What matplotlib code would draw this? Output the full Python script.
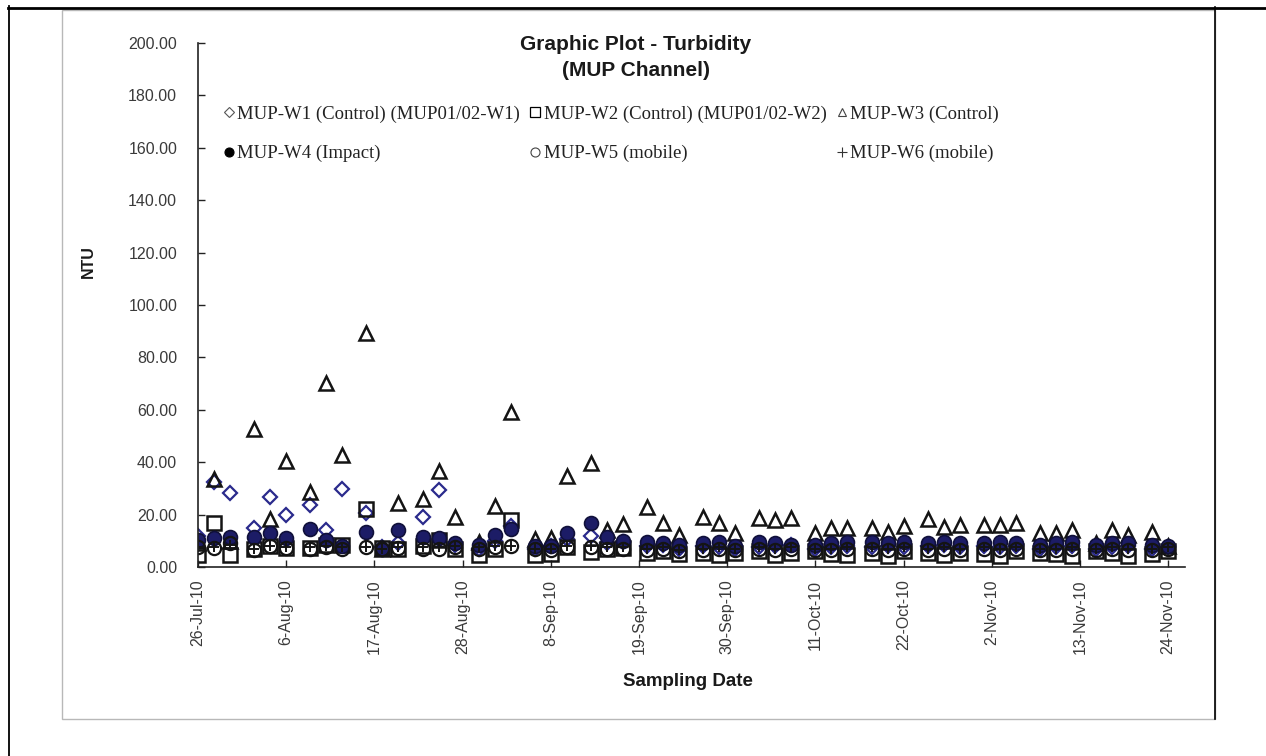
import datetime as dt
import matplotlib
matplotlib.use('Agg')
import matplotlib.pyplot as plt
import matplotlib.dates as mdates
from matplotlib.lines import Line2D
from matplotlib.patches import Rectangle
from matplotlib.ticker import FuncFormatter, MultipleLocator

# sampling dates (Mon / Wed / Fri)
dates = ['2010-07-26', '2010-07-28', '2010-07-30', '2010-08-02', '2010-08-04', '2010-08-06',
         '2010-08-09', '2010-08-11', '2010-08-13', '2010-08-16', '2010-08-18', '2010-08-20',
         '2010-08-23', '2010-08-25', '2010-08-27', '2010-08-30', '2010-09-01', '2010-09-03',
         '2010-09-06', '2010-09-08', '2010-09-10', '2010-09-13', '2010-09-15', '2010-09-17',
         '2010-09-20', '2010-09-22', '2010-09-24', '2010-09-27', '2010-09-29', '2010-10-01',
         '2010-10-04', '2010-10-06', '2010-10-08', '2010-10-11', '2010-10-13', '2010-10-15',
         '2010-10-18', '2010-10-20', '2010-10-22', '2010-10-25', '2010-10-27', '2010-10-29',
         '2010-11-01', '2010-11-03', '2010-11-05', '2010-11-08', '2010-11-10', '2010-11-12',
         '2010-11-15', '2010-11-17', '2010-11-19', '2010-11-22', '2010-11-24']

# turbidity (NTU) per station
w1 = [12.0, 32.5, 28.4, 14.8, 26.6, 19.8, 23.7, 14.1, 29.7, 20.5,
      7.5, 9.0, 19.2, 29.4, 8.5, 7.0, 10.0, 15.5, 7.0, 8.0,
      10.5, 12.0, 9.0, 9.5, 8.0, 8.5, 7.0, 8.0, 7.5, 7.0,
      7.5, 8.0, 8.5, 7.0, 7.5, 8.0, 7.5, 8.0, 7.5, 8.0,
      8.5, 7.5, 8.0, 7.5, 8.0, 7.0, 7.5, 8.0, 7.0, 7.5, 8.0, 7.0, 7.5]
w2 = [4.6, 16.9, 4.6, 7.0, 8.0, 7.2, 7.2, 8.4, 8.4, 22.1,
      7.2, 6.9, 7.9, 10.3, 6.9, 4.6, 6.9, 17.9, 4.6, 4.8,
      7.6, 5.8, 6.9, 7.2, 5.5, 6.0, 5.0, 5.5, 4.5, 5.5,
      6.0, 4.5, 5.5, 6.0, 5.0, 4.5, 5.5, 4.3, 6.0, 5.5,
      4.5, 5.5, 5.0, 4.3, 6.0, 5.5, 5.0, 4.3, 6.0, 5.5, 4.3, 5.0, 6.0]
w3 = [9.0, 33.5, 10.0, 52.5, 18.3, 40.5, 28.5, 70.3, 42.7, 89.5,
      7.0, 24.5, 25.8, 36.6, 19.0, 9.5, 23.4, 59.0, 10.5, 11.0,
      34.7, 39.8, 14.1, 16.4, 23.0, 16.7, 12.2, 19.2, 16.7, 13.1,
      18.6, 17.9, 18.6, 12.8, 15.0, 15.0, 15.0, 13.5, 15.6, 18.2,
      15.1, 16.0, 16.0, 16.0, 16.7, 12.8, 13.1, 14.1, 9.0, 14.1, 12.2, 13.5, 8.0]
w4 = [10.3, 10.9, 11.6, 11.6, 13.1, 10.9, 14.4, 10.3, 8.0, 13.5,
      7.0, 14.1, 11.4, 10.9, 9.0, 8.4, 12.2, 14.4, 8.0, 8.0,
      12.8, 16.7, 11.6, 10.1, 9.5, 9.0, 8.5, 9.0, 9.5, 8.0,
      9.5, 9.0, 8.5, 8.5, 9.0, 9.5, 9.5, 9.0, 9.5, 9.0,
      9.5, 9.0, 9.0, 9.5, 9.0, 8.5, 9.0, 9.5, 8.5, 9.0, 9.0, 8.5, 8.0]
w5 = [7.5, 7.2, 9.0, 6.5, 8.0, 7.2, 7.0, 7.5, 7.0, 7.5,
      7.0, 7.2, 7.0, 7.0, 7.5, 7.0, 7.5, 8.0, 7.0, 6.5,
      7.5, 7.5, 7.0, 7.0, 6.5, 7.0, 6.0, 6.5, 7.0, 6.5,
      7.0, 6.5, 7.0, 6.5, 6.5, 7.0, 7.0, 6.5, 7.0, 6.5,
      7.0, 6.5, 7.0, 6.5, 7.0, 6.5, 6.5, 7.0, 6.5, 7.0, 6.5, 6.5, 7.0]
w6 = [7.5, 7.5, 8.5, 7.0, 8.0, 7.5, 7.5, 8.0, 7.5, 7.5,
      7.0, 7.5, 7.5, 7.5, 8.0, 7.5, 8.0, 8.0, 7.0, 7.0,
      8.0, 8.0, 7.5, 7.5, 7.0, 7.5, 6.5, 7.0, 7.5, 7.0,
      7.5, 7.0, 7.5, 7.0, 7.0, 7.5, 7.5, 7.0, 7.5, 7.0,
      7.5, 7.0, 7.5, 7.0, 7.5, 7.0, 7.0, 7.5, 7.0, 7.5, 7.0, 7.0, 7.5]

labels = ['MUP-W1 (Control) (MUP01/02-W1)', 'MUP-W2 (Control) (MUP01/02-W2)',
          'MUP-W3 (Control)', 'MUP-W4 (Impact)', 'MUP-W5 (mobile)', 'MUP-W6 (mobile)']

W, H = 1266, 756
fx = lambda px: px / W
fy = lambda py: 1 - py / H

fig = plt.figure(figsize=(W / 100, H / 100), dpi=100)
fig.patch.set_facecolor('white')

# page / table rules around the pasted chart
fig.add_artist(Line2D([fx(8), 1], [fy(7.5), fy(7.5)], color='black', lw=2.0))
fig.add_artist(Line2D([fx(8.5), fx(8.5)], [0, fy(6)], color='black', lw=1.3))
fig.add_artist(Rectangle((fx(62), fy(719)), fx(1215) - fx(62), fy(10) - fy(719),
                         fill=False, edgecolor='#b8b8b8', lw=1.0))
fig.add_artist(Line2D([fx(1215), fx(1215)], [fy(719), fy(7)], color='black', lw=1.2))

ax = fig.add_axes([fx(198), fy(567), fx(1185) - fx(198), fy(43) - fy(567)])
x = [dt.datetime.strptime(d, '%Y-%m-%d') for d in dates]

navy = '#2a2a8c'
dark = '#141414'
styles = [
    dict(marker='D', ms=7.5, mfc='none', mec=navy, mew=1.6),
    dict(marker='s', ms=9.5, mfc='none', mec=dark, mew=1.8),
    dict(marker='^', ms=10, mfc='none', mec=dark, mew=1.8),
    dict(marker='o', ms=10, mfc='#1c1c66', mec='#10103a', mew=1.2),
    dict(marker='o', ms=9.5, mfc='none', mec=dark, mew=1.6),
    dict(marker='+', ms=7, mfc='none', mec=dark, mew=1.4),
]
for ys, st in zip([w1, w2, w3, w4, w5, w6], styles):
    ax.plot(x, ys, linestyle='none', **st)

t0 = dt.datetime(2010, 7, 26)
ax.set_xlim(t0, t0 + dt.timedelta(days=123.1))
ax.set_ylim(0, 200)
ax.set_xticks([t0 + dt.timedelta(days=11 * i) for i in range(12)])
ax.xaxis.set_major_formatter(FuncFormatter(
    lambda v, p: '{}-{}'.format(mdates.num2date(v).day, mdates.num2date(v).strftime('%b-%y'))))
ax.yaxis.set_major_locator(MultipleLocator(20))
ax.yaxis.set_major_formatter(FuncFormatter(lambda v, p: '%.2f' % v))

for s in ['top', 'right']:
    ax.spines[s].set_visible(False)
for s in ['left', 'bottom']:
    ax.spines[s].set_color('#222222')
    ax.spines[s].set_linewidth(1.2)
ax.tick_params(axis='both', direction='in', length=5, width=1, color='#222222',
               labelcolor='#3a3a3a')
ax.tick_params(axis='y', pad=15, labelsize=11.5)
ax.tick_params(axis='x', pad=9, labelsize=11.5, labelrotation=90)
for lab in ax.get_xticklabels() + ax.get_yticklabels():
    lab.set_family(['Liberation Sans', 'DejaVu Sans'])

# legend: small glyph-like markers, laid out in two rows of three
hstyle = [
    dict(marker='D', ms=5, mfc='none', mec='#555555', mew=0.8),
    dict(marker='s', ms=7, mfc='none', mec='black', mew=0.9),
    dict(marker='^', ms=6, mfc='none', mec='#444444', mew=0.8),
    dict(marker='o', ms=6.5, mfc='black', mec='black', mew=0.8),
    dict(marker='o', ms=6.5, mfc='none', mec='#444444', mew=0.8),
    dict(marker='+', ms=7, mfc='none', mec='#333333', mew=0.8),
]
handles = [Line2D([], [], linestyle='none', **h) for h in hstyle]
order = [0, 3, 1, 4, 2, 5]
fig.legend([handles[i] for i in order], [labels[i] for i in order],
           loc='upper left', bbox_to_anchor=(fx(214), fy(96)), ncol=3, frameon=False,
           borderpad=0, handlelength=0.6, handletextpad=0.15, columnspacing=0.5,
           labelspacing=1.2, prop={'family': ['Liberation Serif', 'DejaVu Serif'], 'size': 13.5},
           labelcolor='#222222')

title_font = ['Liberation Sans Narrow', 'Liberation Sans', 'DejaVu Sans']
fig.text(fx(636), fy(44), 'Graphic Plot - Turbidity', ha='center', va='center',
         fontsize=15, fontweight='bold', family=title_font, color='#1a1a1a')
fig.text(fx(636), fy(70), '(MUP Channel)', ha='center', va='center',
         fontsize=15, fontweight='bold', family=title_font, color='#1a1a1a')
fig.text(fx(88), fy(262), 'NTU', rotation=90, ha='center', va='center',
         fontsize=11.5, fontweight='bold', family=title_font, color='#1a1a1a')
fig.text(fx(688), fy(682), 'Sampling Date', ha='center', va='center',
         fontsize=13.5, fontweight='bold', family=title_font, color='#1a1a1a')

fig.savefig('out.png', dpi=100, facecolor='white')
